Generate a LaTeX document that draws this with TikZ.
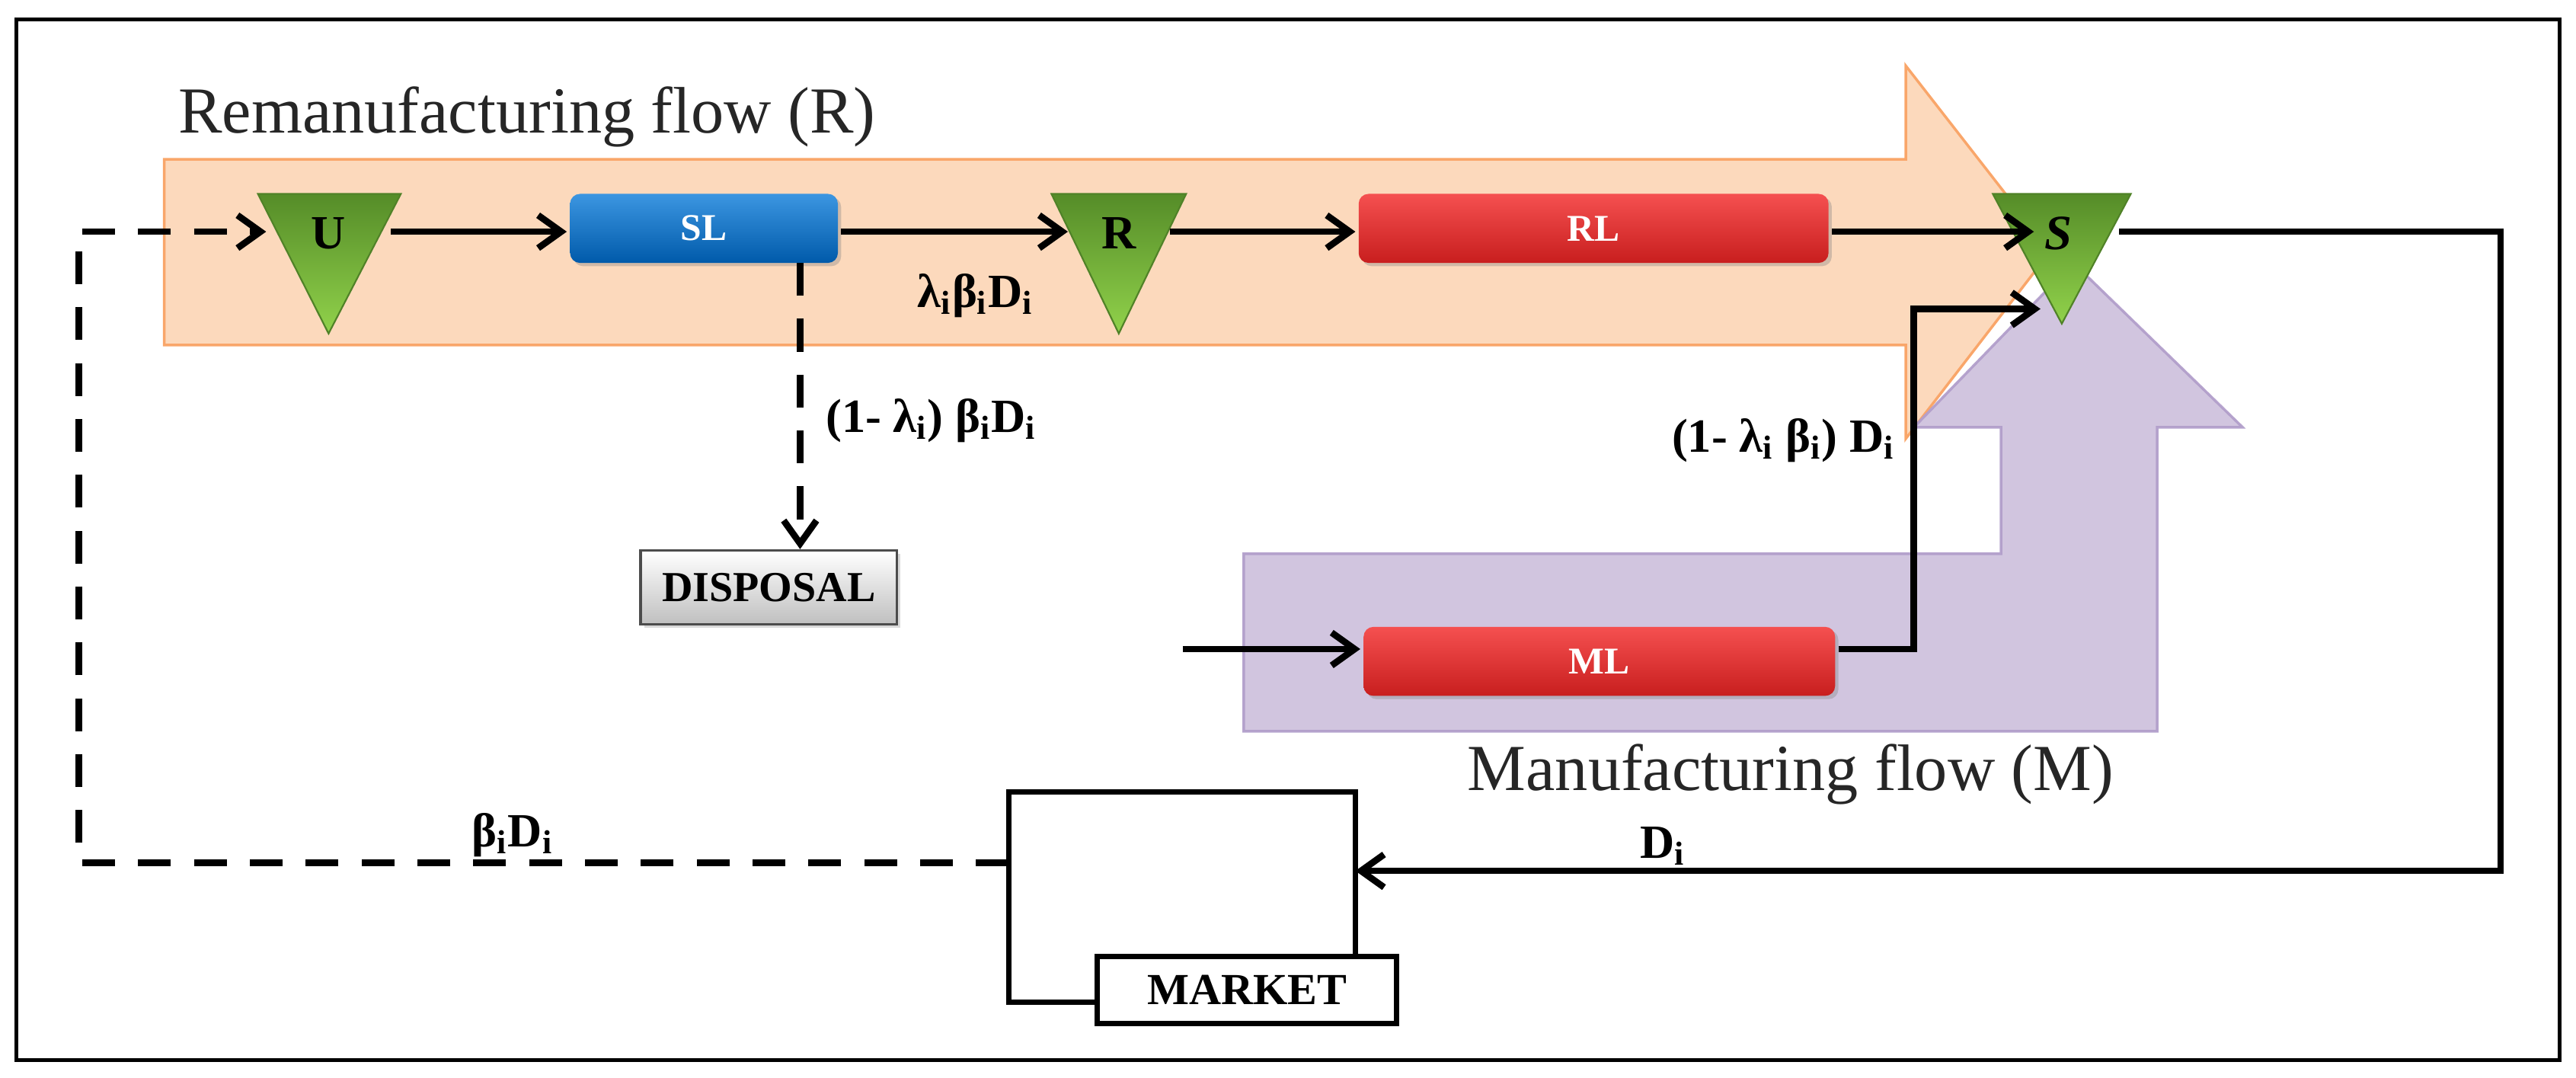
\documentclass[tikz,border=0pt]{standalone}
\usepackage{fontspec}
\setmainfont{Liberation Serif}
\usetikzlibrary{arrows.meta,shadows}
\definecolor{orfill}{HTML}{FCD9BC}
\definecolor{ordraw}{HTML}{F9A66A}
\definecolor{pufill}{HTML}{CFC2DD}
\definecolor{pudraw}{HTML}{B29FCB}
\begin{document}
\begin{tikzpicture}[x=0.5pt,y=-0.5pt,
  line width=2pt,
  arr/.style={-{Straight Barb[length=7pt,width=10pt,line width=2pt]}},
  dsh/.style={dash pattern=on 10pt off 7pt},
  tri/.style={draw={rgb,255:red,80;green,130;blue,40},line width=0.5pt,top color={rgb,255:red,85;green,140;blue,40},bottom color={rgb,255:red,145;green,210;blue,75}},
  lbl/.style={font=\bfseries\fontsize{14.5}{16}\selectfont},
  box/.style={rounded corners=3pt,draw=none,minimum height=21pt,inner sep=0,font=\bfseries\fontsize{11.5}{12}\selectfont,text=white,drop shadow={shadow xshift=1pt,shadow yshift=-1pt,opacity=0.35}},
  blue/.style={box,top color={rgb,255:red,60;green,150;blue,225},bottom color={rgb,255:red,0;green,90;blue,170}},
  red/.style={box,top color={rgb,255:red,245;green,80;blue,80},bottom color={rgb,255:red,200;green,30;blue,30}},
  flow/.style={font=\fontsize{20}{24}\selectfont,text=black!85}]
\useasboundingbox (0,0) rectangle (1568,656);
\draw[line width=1.2pt] (10,12) rectangle (1558,645);
% orange flow arrow
\fill[orfill,draw=ordraw,line width=0.8pt] (100,97) -- (1160,97) -- (1160,40) -- (1248,153) -- (1160,267) -- (1160,210) -- (100,210) -- cycle;
% purple flow arrow
\fill[pufill,draw=pudraw,line width=0.8pt,opacity=0.95] (757,337) -- (1218,337) -- (1218,260) -- (1165,260) -- (1262,160) -- (1365,260) -- (1313,260) -- (1313,445) -- (757,445) -- cycle;
\node[flow,anchor=south west] (rlab) at (100,98) {Remanufacturing flow (R)};
\node[flow,anchor=north] (mlab) at (1090,444) {Manufacturing flow (M)};
% triangles
\filldraw[tri] (157,118) -- (244,118) -- (200,203) -- cycle;
\filldraw[tri] (640,118) -- (722,118) -- (681,203) -- cycle;
\filldraw[tri] (1213,118) -- (1297,118) -- (1255,197) -- cycle;
\node[lbl] (U) at (200,142) {U};
\node[lbl] (R) at (681,142) {R};
\node[lbl,font=\bfseries\itshape\fontsize{15}{15}\selectfont] (S) at (1253,142) {S};
\coordinate (Uin) at (162,141);
\coordinate (Uout) at (238,141);
\coordinate (Rin) at (650,141);
\coordinate (Rout) at (712,141);
\coordinate (Sin) at (1238,141);
\coordinate (Sout) at (1290,141);
\coordinate (Sin2) at (1242,188);
% boxes
\node[blue,minimum width=81.5pt] (SL) at (428.5,139) {SL};
\node[red,minimum width=143pt] (RL) at (970,139) {RL};
\node[red,minimum width=143.5pt] (ML) at (973.5,402.5) {ML};
\node[draw=black!70,line width=0.8pt,top color=white,bottom color=black!25,minimum width=78pt,minimum height=22.5pt,inner sep=0,font=\bfseries\fontsize{13}{14}\selectfont,drop shadow={shadow xshift=1pt,shadow yshift=-1pt,opacity=0.3}] (DISP) at (468,357.5) {DISPOSAL};
% market
\node[draw,line width=1.6pt,minimum width=91pt,minimum height=20.5pt,inner sep=0,font=\bfseries\fontsize{13.5}{14}\selectfont] (MK) at (759,602.5) {MARKET};
\coordinate (Min) at (825,530);
\coordinate (Mout) at (614,525);
\draw[line width=1.6pt] (668,610) -- (614,610) -- (614,482) -- (825,482) -- (825,582);
% flows
\draw[arr] (Uout) -- (SL.west |- Uout);
\draw[arr] (SL.east |- Uout) -- (Rin);
\draw[arr] (Rout) -- (RL.west |- Rout);
\draw[arr] (RL.east |- Rout) -- (Sin);
\draw[arr] (Sout) -- (1522,141) -- (1522,530) -- (Min);
\draw[arr,dsh] (Mout) -- (48,525) -- (48,141) -- (Uin);
\draw[arr,dsh] (487,160) -- (DISP.north -| 487,0);
\coordinate (Min2) at (720,395);
\draw[arr] (Min2) -- (ML.west |- Min2);
\draw[arr] (ML.east |- 0,395) -- (1165,395) -- (1165,188) -- (Sin2);
% labels
\node[lbl,anchor=west] (l1) at (550,180) {λ\textsubscript{i}β\textsubscript{i}D\textsubscript{i}};
\node[lbl,anchor=west] (l2) at (494,256) {(1- λ\textsubscript{i}) β\textsubscript{i}D\textsubscript{i}};
\node[lbl,anchor=east] (l3) at (1162,268) {(1- λ\textsubscript{i} β\textsubscript{i}) D\textsubscript{i}};
\node[lbl] (l4) at (312,508) {β\textsubscript{i}D\textsubscript{i}};
\node[lbl] (l5) at (1012,515) {D\textsubscript{i}};
\end{tikzpicture}
\end{document}
